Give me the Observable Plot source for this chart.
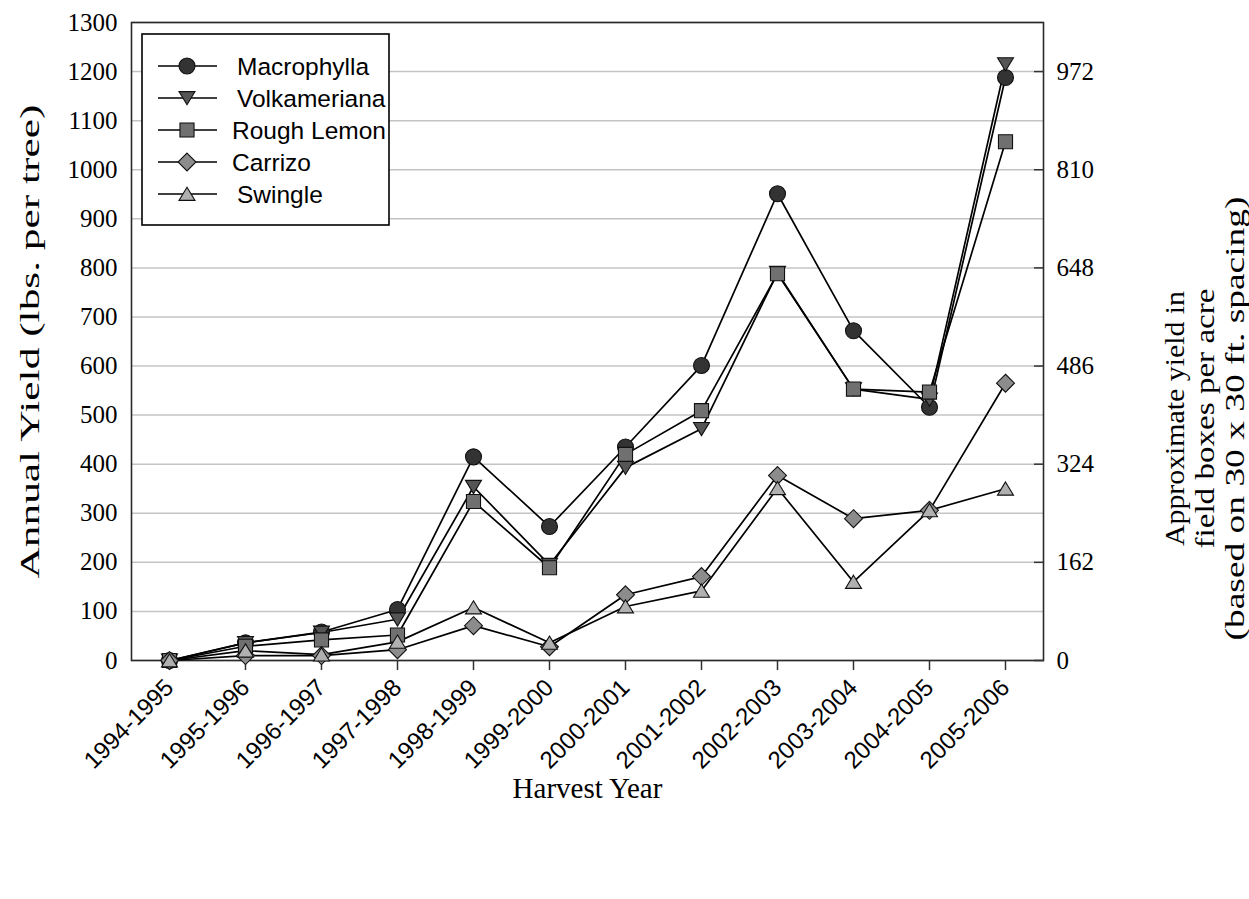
<!DOCTYPE html>
<html><head><meta charset="utf-8">
<script src="https://cdn.jsdelivr.net/npm/d3@7"></script>
<script src="https://cdn.jsdelivr.net/npm/@observablehq/plot@0.6"></script>
<style>
body{margin:0;background:#fff;}
#wrap{position:relative;width:1249px;height:899px;}
#legend{position:absolute;left:141px;top:33px;}
</style></head><body><div id="wrap"></div>
<script>
const years = ["1994-1995","1995-1996","1996-1997","1997-1998","1998-1999","1999-2000","2000-2001","2001-2002","2002-2003","2003-2004","2004-2005","2005-2006"];
const seriesNames = ["Macrophylla","Volkameriana","Rough Lemon","Carrizo","Swingle"];
const macrophylla  = [0,36,58,104,415,273,435,601,951,672,516,1188];
const volkameriana = [0,36,57,84,354,195,393,472,790,553,532,1215];
const roughLemon   = [0,29,42,52,324,189,420,509,788,553,547,1057];
const carrizo      = [0,10,10,22,71,28,134,171,377,289,306,565];
const swingle      = [0,20,12,38,108,36,110,142,351,160,306,350];
const yTicks = [0,100,200,300,400,500,600,700,800,900,1000,1100,1200,1300];
const rightTickValues = [0,200,400,600,800,1000,1200];
const rightTickLabels = ["0","162","324","486","648","810","972"];
const yTitle = "Annual Yield (lbs. per tree)";
const y2Title = ["Approximate yield in","field boxes per acre","(based on 30 x 30 ft. spacing)"];
const xTitle = "Harvest Year";

// marker shapes
const symCircle = {draw(c,s){const r=Math.sqrt(s/Math.PI); c.moveTo(r,0); c.arc(0,0,r,0,2*Math.PI); c.closePath();}};
const symTriDown = {draw(c,s){const r=Math.sqrt(s/Math.PI); c.moveTo(-r,-0.8*r); c.lineTo(r,-0.8*r); c.lineTo(0,0.85*r); c.closePath();}};
const symSquare = {draw(c,s){const r=Math.sqrt(s/Math.PI)*0.88; c.rect(-r,-r,2*r,2*r);}};
const symDiamond = {draw(c,s){const r=Math.sqrt(s/Math.PI)*1.12; c.moveTo(0,-r); c.lineTo(r,0); c.lineTo(0,r); c.lineTo(-r,0); c.closePath();}};
const symTriUp = {draw(c,s){const r=Math.sqrt(s/Math.PI); c.moveTo(0,-0.85*r); c.lineTo(r,0.8*r); c.lineTo(-r,0.8*r); c.closePath();}};

const seriesValues = [macrophylla, volkameriana, roughLemon, carrizo, swingle];
const seriesSymbols = [symCircle, symTriDown, symSquare, symDiamond, symTriUp];
const seriesFills = ["#333333","#555555","#707070","#8c8c8c","#b0b0b0"];

const rows = seriesNames.flatMap((name,k) => years.map((yr,i) => ({series:name, year:yr, value:seriesValues[k][i]})));

const serif = "'Liberation Serif', 'Times New Roman', serif";
const sans = "'Liberation Sans', Arial, sans-serif";

const chart = Plot.plot({
  width: 1249, height: 899,
  marginLeft: 131, marginRight: 206, marginTop: 22, marginBottom: 239,
  style: {fontFamily: serif, background: "#fff", color: "#000"},
  x: {type: "point", domain: years, padding: 0.5, label: null},
  y: {domain: [0,1300], label: null},
  marks: [
    Plot.gridY(yTicks, {stroke: "#c4c4c4", strokeOpacity: 1, strokeWidth: 1.5}),
    Plot.frame({stroke: "#2a2a2a", strokeWidth: 1.6}),
    Plot.axisY(yTicks, {anchor: "left", tickSize: 0, tickPadding: 14, fontSize: 25, fontFamily: serif, label: null, tickFormat: d => String(d)}),
    Plot.axisY(rightTickValues, {anchor: "right", tickSize: 0, tickPadding: 13, fontSize: 25, fontFamily: serif, label: null,
      tickFormat: d => rightTickLabels[rightTickValues.indexOf(d)]}),
    Plot.axisY(rightTickValues, {anchor: "right", tickSize: 10, dx: -10, strokeWidth: 1.5, stroke: "#333", tickFormat: () => "", label: null}),
    Plot.axisX({tickRotate: -45, tickSize: 10, tickPadding: 13, fontSize: 24, fontFamily: sans, label: null, strokeWidth: 1.5, stroke: "#333"}),
    Plot.line(rows, {x: "year", y: "value", z: "series", stroke: "#000", strokeWidth: 1.7}),
    ...seriesNames.map((name,k) => Plot.dot(rows.filter(d => d.series === name), {
      x: "year", y: "value", r: 8, symbol: seriesSymbols[k], fill: seriesFills[k], stroke: "#111", strokeWidth: 1.1, fillOpacity: 1
    })),
    Plot.text([yTitle], {text: d => d, frameAnchor: "left", textAnchor: "middle", lineAnchor: "middle", dx: -101, rotate: -90, fontSize: 28, fontFamily: serif, fill: "#000", className: "ytitle"}),
    ...y2Title.map((t,i) => Plot.text([t], {text: d => d, frameAnchor: "right", textAnchor: "middle", lineAnchor: "middle", dx: 132 + 30*i, dy: 77, rotate: -90, fontSize: 27, fontFamily: serif, fill: "#000", className: "y2title" + i})),
    Plot.text([xTitle], {text: d => d, frameAnchor: "bottom", textAnchor: "middle", lineAnchor: "middle", dy: 128, fontSize: 29, fontFamily: serif, fill: "#000"})
  ]
});
document.getElementById("wrap").appendChild(chart);

// stretch rotated titles to their measured lengths (centered)
const stretch = (cls, len) => d3.select(chart).selectAll("g." + cls + " text")
  .attr("text-anchor", "start").attr("x", -len/2)
  .attr("textLength", len).attr("lengthAdjust", "spacingAndGlyphs");
stretch("ytitle", 474);
stretch("y2title0", 255);
stretch("y2title1", 260);
stretch("y2title2", 444);

// legend
const lg = d3.select("#wrap").append("svg").attr("id","legend").attr("width", 250).attr("height", 194);
lg.append("rect").attr("x",1).attr("y",1).attr("width",247).attr("height",191).attr("fill","#fff").attr("stroke","#000").attr("stroke-width",1.6);
const textX = [96, 96, 91, 91, 96];
seriesNames.forEach((name,k) => {
  const y = 33 + 32*k;
  lg.append("line").attr("x1",17).attr("x2",76).attr("y1",y).attr("y2",y).attr("stroke","#000").attr("stroke-width",1.7);
  const p = d3.path(); seriesSymbols[k].draw(p, 64*Math.PI);
  lg.append("path").attr("d", p.toString()).attr("transform", `translate(46,${y})`).attr("fill", seriesFills[k]).attr("stroke","#111").attr("stroke-width",1.1);
  lg.append("text").attr("x", textX[k]).attr("y", y).attr("dy","0.35em").attr("font-family", sans).attr("font-size", 24.5).attr("fill","#000").text(name);
});
</script></body></html>
